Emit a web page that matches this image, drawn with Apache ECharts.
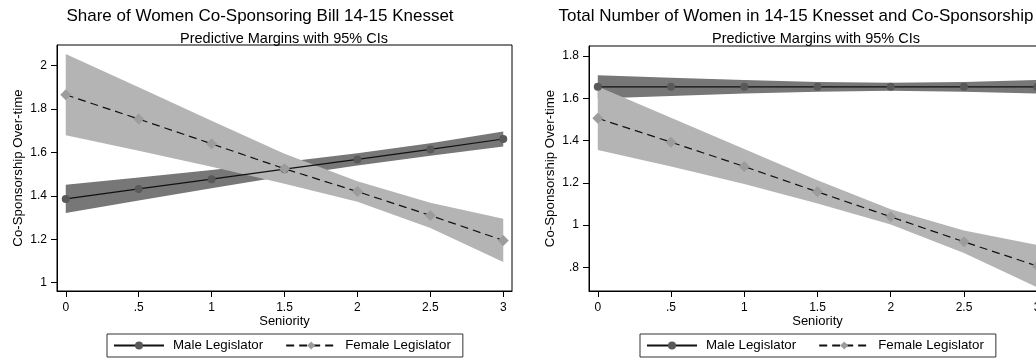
<!DOCTYPE html>
<html>
<head>
<meta charset="utf-8">
<script src="https://cdn.jsdelivr.net/npm/echarts@6/dist/echarts.min.js"></script>
<style>
  html, body { margin: 0; padding: 0; background: #fff; }
  #chart { width: 1036px; height: 362px; }
</style>
</head>
<body>
<div id="chart"></div>
<script>
// Seniority values where the margins were evaluated
const seniority = [0, 0.5, 1, 1.5, 2, 2.5, 3];
const xTicks = [0, 0.5, 1, 1.5, 2, 2.5, 3];

// Panel 1: share of women co-sponsoring
const shareMale      = [1.386, 1.432, 1.477, 1.523, 1.568, 1.614, 1.662];
const shareMaleLo    = [1.321, 1.379, 1.435, 1.490, 1.540, 1.585, 1.627];
const shareMaleHi    = [1.451, 1.485, 1.519, 1.556, 1.596, 1.643, 1.697];
const shareFemale    = [1.866, 1.754, 1.640, 1.525, 1.420, 1.310, 1.195];
const shareFemaleLo  = [1.679, 1.608, 1.534, 1.456, 1.373, 1.252, 1.095];
const shareFemaleHi  = [2.053, 1.900, 1.746, 1.594, 1.467, 1.368, 1.295];
const shareYTicks    = [1, 1.2, 1.4, 1.6, 1.8, 2];

// Panel 2: total number of women
const totalMale      = [1.654, 1.654, 1.654, 1.654, 1.654, 1.654, 1.654];
const totalMaleLo    = [1.599, 1.611, 1.622, 1.631, 1.635, 1.631, 1.622];
const totalMaleHi    = [1.709, 1.697, 1.686, 1.677, 1.673, 1.677, 1.686];
const totalFemale    = [1.505, 1.392, 1.277, 1.157, 1.039, 0.921, 0.806];
const totalFemaleLo  = [1.355, 1.277, 1.194, 1.102, 1.003, 0.868, 0.706];
const totalFemaleHi  = [1.655, 1.507, 1.360, 1.212, 1.075, 0.974, 0.906];
const totalYTicks    = [0.8, 1, 1.2, 1.4, 1.6, 1.8];

const FONT = '"Liberation Sans", Arial, Helvetica, sans-serif';
const DARK_BAND = '#777777';
const LIGHT_BAND = '#b4b4b4';
const MALE_MARK = '#595959';
const FEMALE_MARK = '#9c9c9c';

// Stata-style numbers: drop the leading zero
const fmt = v => String(+v.toFixed(3)).replace(/^0\./, '.');

function xAxisCfg(idx) {
  return {
    type: 'value', gridIndex: idx, min: -0.06, max: 3.06,
    name: 'Seniority', nameLocation: 'middle', nameGap: 24, nameMoveOverlap: false,
    nameTextStyle: { fontSize: 13, color: '#000', fontFamily: FONT },
    axisLine: { show: true, onZero: false, lineStyle: { color: '#000', width: 1 } },
    axisTick: { show: true, length: 6, customValues: xTicks, lineStyle: { color: '#000' } },
    axisLabel: { customValues: xTicks, formatter: fmt, margin: 11, fontSize: 12, color: '#000', fontFamily: FONT },
    splitLine: { show: false }
  };
}

function yAxisCfg(idx, min, max, ticks) {
  return {
    type: 'value', gridIndex: idx, min: min, max: max,
    name: 'Co-Sponsorship Over-time', nameLocation: 'middle', nameGap: 32, nameMoveOverlap: false,
    nameTextStyle: { fontSize: 13.3, color: '#000', fontFamily: FONT },
    axisLine: { show: true, onZero: false, lineStyle: { color: '#000', width: 1 } },
    axisTick: { show: true, length: 6, customValues: ticks, lineStyle: { color: '#000' } },
    axisLabel: { customValues: ticks, formatter: fmt, margin: 10, fontSize: 12, color: '#000', fontFamily: FONT },
    splitLine: { show: false }
  };
}

// Confidence band drawn as one polygon through the axis scales
function bandSeries(idx, lo, hi, color, z) {
  return {
    type: 'custom', xAxisIndex: idx, yAxisIndex: idx, z: z, silent: true,
    data: seniority.map((x, i) => [x, lo[i], hi[i]]),
    encode: { x: 0, y: [1, 2] },
    renderItem(params, api) {
      if (params.dataIndex !== 0) return null;
      const upper = seniority.map((x, i) => api.coord([x, hi[i]]));
      const lower = seniority.map((x, i) => api.coord([x, lo[i]])).reverse();
      return { type: 'polygon', shape: { points: upper.concat(lower) }, style: { fill: color } };
    }
  };
}

function maleLine(idx, values) {
  return {
    type: 'line', name: 'Male Legislator', xAxisIndex: idx, yAxisIndex: idx, z: 5,
    data: seniority.map((x, i) => [x, values[i]]),
    symbol: 'circle', symbolSize: 8, showSymbol: true, clip: false,
    itemStyle: { color: MALE_MARK },
    lineStyle: { color: '#111', width: 1.2 },
    emphasis: { disabled: true }
  };
}

function femaleLine(idx, values) {
  return {
    type: 'line', name: 'Female Legislator', xAxisIndex: idx, yAxisIndex: idx, z: 5,
    data: seniority.map((x, i) => [x, values[i]]),
    symbol: 'diamond', symbolSize: 11, showSymbol: true, clip: false,
    itemStyle: { color: FEMALE_MARK },
    lineStyle: { color: '#111', width: 1.2, type: [8, 5] },
    emphasis: { disabled: true }
  };
}

function legendCfg(left) {
  return {
    data: ['Male Legislator', 'Female Legislator'],
    left: left, top: 334, orient: 'horizontal',
    itemWidth: 50, itemHeight: 10, itemGap: 22,
    padding: [5, 12, 5, 6],
    borderColor: '#333', borderWidth: 1,
    selectedMode: false,
    textStyle: { fontSize: 13.3, color: '#000', fontFamily: FONT, padding: [0, 0, 0, 4] }
  };
}

const titleStyle = { fontSize: 17, fontWeight: 'normal', color: '#000', fontFamily: FONT };
const subStyle = { fontSize: 14.5, fontWeight: 'normal', color: '#000', fontFamily: FONT };

const chart = echarts.init(document.getElementById('chart'), null, { renderer: 'canvas' });
chart.setOption({
  animation: false,
  backgroundColor: '#fff',
  title: [
    { text: 'Share of Women Co-Sponsoring Bill 14-15 Knesset', left: 260, top: 8, textAlign: 'center', padding: 0, textStyle: titleStyle },
    { text: 'Predictive Margins with 95% CIs', left: 284, top: 31, textAlign: 'center', padding: 0, textStyle: subStyle },
    { text: 'Total Number of Women in 14-15 Knesset and Co-Sponsorship', left: 796, top: 8, textAlign: 'center', padding: 0, textStyle: titleStyle },
    { text: 'Predictive Margins with 95% CIs', left: 816, top: 31, textAlign: 'center', padding: 0, textStyle: subStyle }
  ],
  grid: [
    { left: 57, top: 45, width: 455, height: 246, outerBoundsMode: 'none', show: true, borderColor: '#000', borderWidth: 1, backgroundColor: 'transparent' },
    { left: 589, top: 46, width: 457, height: 245, outerBoundsMode: 'none', show: true, borderColor: '#000', borderWidth: 1, backgroundColor: 'transparent' }
  ],
  xAxis: [xAxisCfg(0), xAxisCfg(1)],
  yAxis: [
    yAxisCfg(0, 0.962, 2.095, shareYTicks),
    yAxisCfg(1, 0.688, 1.847, totalYTicks)
  ],
  legend: [legendCfg(107), legendCfg(640)],
  series: [
    bandSeries(0, shareMaleLo, shareMaleHi, DARK_BAND, 1),
    bandSeries(0, shareFemaleLo, shareFemaleHi, LIGHT_BAND, 2),
    maleLine(0, shareMale),
    femaleLine(0, shareFemale),
    bandSeries(1, totalMaleLo, totalMaleHi, DARK_BAND, 1),
    bandSeries(1, totalFemaleLo, totalFemaleHi, LIGHT_BAND, 2),
    maleLine(1, totalMale),
    femaleLine(1, totalFemale)
  ]
});
</script>
</body>
</html>
